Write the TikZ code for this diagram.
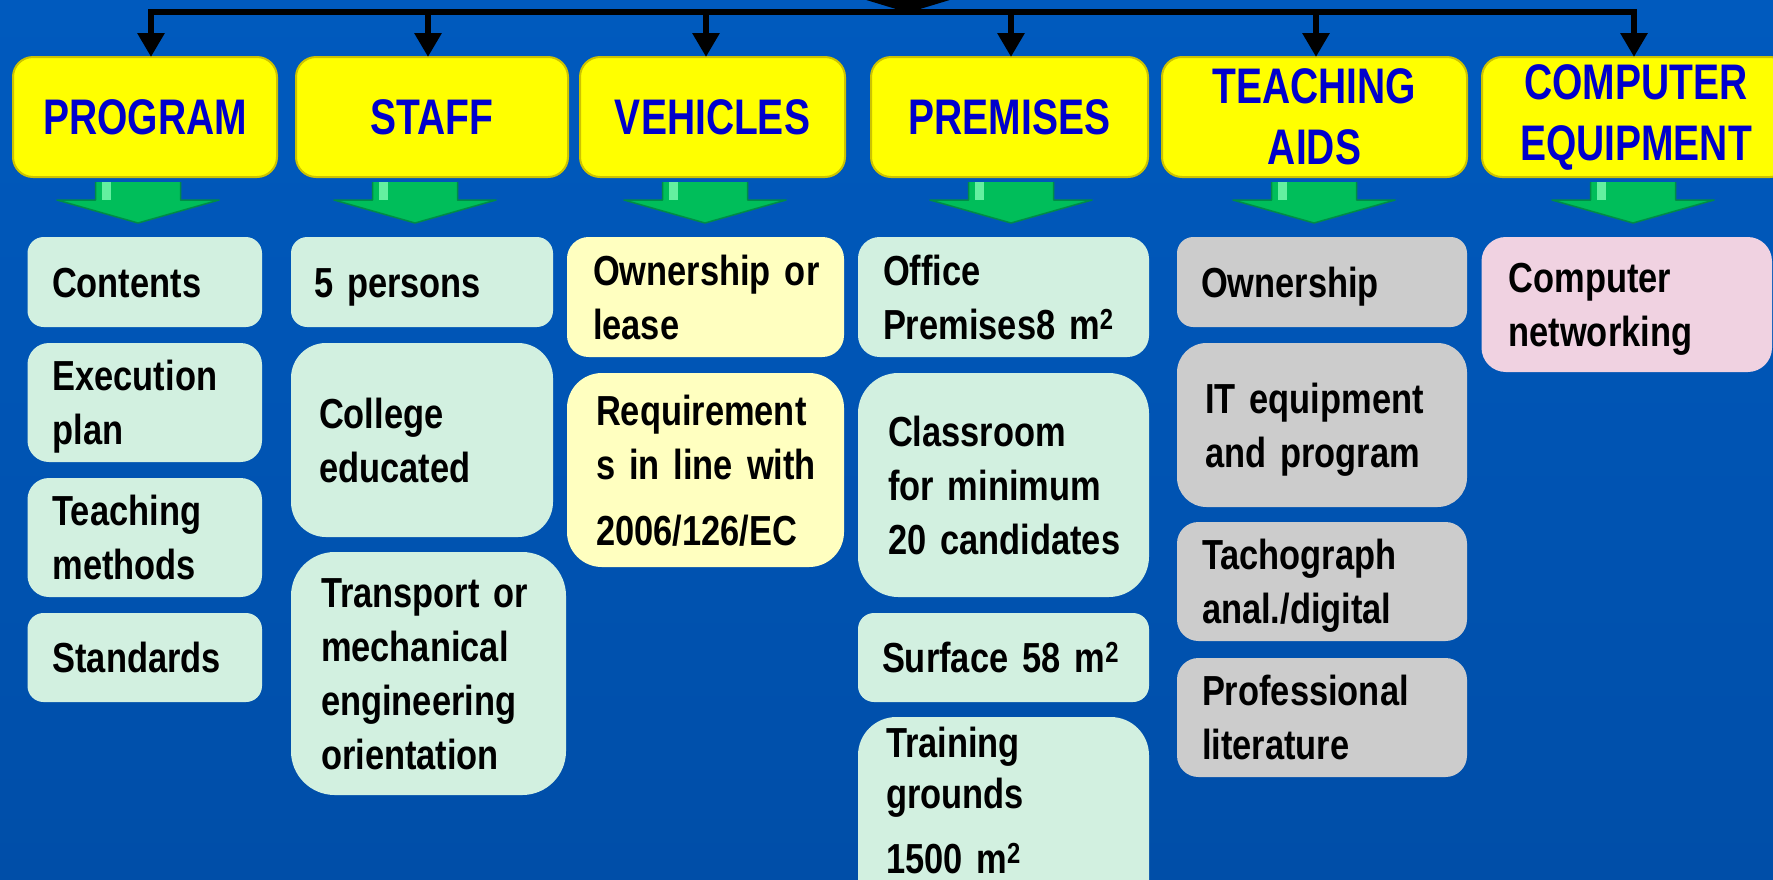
\documentclass[tikz,border=0pt]{standalone}
\usepackage{fontspec}
\newfontfamily\bodyfont{Liberation Sans}[FakeStretch=0.82]
\newfontfamily\headfont{Liberation Sans}[FakeStretch=0.78]
\usetikzlibrary{arrows.meta}
\definecolor{bgtop}{RGB}{0,90,190}
\definecolor{bgbot}{RGB}{0,78,168}
\definecolor{hdyellow}{RGB}{255,255,0}
\definecolor{hdedge}{RGB}{205,195,0}
\definecolor{hdtext}{RGB}{0,0,204}
\definecolor{mint}{RGB}{210,240,224}
\definecolor{cream}{RGB}{255,255,192}
\definecolor{grayb}{RGB}{204,204,204}
\definecolor{pinkb}{RGB}{240,210,225}
\definecolor{gmain}{RGB}{0,190,90}
\definecolor{gdark}{RGB}{0,140,70}
\definecolor{glight}{RGB}{100,240,160}
\newcommand\sq{\raisebox{10pt}{\fontsize{29pt}{29pt}\selectfont 2}}
\newcommand\st{\rule[-10pt]{0pt}{50pt}}
\newcommand\mybox[8]{%
  \pgfmathsetmacro\bxw{#5-#3}%
  \pgfmathsetmacro\bxh{#6-#4}%
  \pgfmathsetmacro\bxr{0.18*min(\bxw,\bxh)}%
  \pgfmathsetmacro\bxt{\bxw-2*#7}%
  \pgfmathsetmacro\bxcx{(#3+#5)/2}%
  \pgfmathsetmacro\bxcy{(#4+#6)/2}%
  \node[item,#2,minimum width=\bxw pt,minimum height=\bxh pt,text width=\bxt pt,rounded corners=\bxr pt] (#1) at (\bxcx,\bxcy) {\st#8\st};}
\newcommand\myhead[6]{%
  \pgfmathsetmacro\bxw{#4-#2}%
  \pgfmathsetmacro\bxcx{(#2+#4)/2}%
  \pgfmathsetmacro\bxcy{(#3+#5)/2}%
  \node[hdr,minimum width=\bxw pt] (#1) at (\bxcx,\bxcy) {#6};}
\tikzset{
  item/.style={inner sep=0pt, outer sep=0pt, align=left, text=black,
    font={\bodyfont\bfseries\fontsize{42pt}{54pt}\selectfont\spaceskip=0.24em plus 0.05em minus 0.03em\relax}},
  mintbox/.style={fill=mint},
  creambox/.style={fill=cream},
  graybox/.style={fill=grayb},
  pinkbox/.style={fill=pinkb},
  hdr/.style={fill=hdyellow, draw=hdedge, line width=2pt, rounded corners=20pt,
    minimum height=120pt, inner sep=0pt, outer sep=0pt, align=center, text=hdtext,
    font={\headfont\bfseries\fontsize{50pt}{61pt}\selectfont}},
  conn/.style={line width=6pt, black, line join=miter, -{Triangle[length=24pt,width=26pt]}},
  garrow/.pic={
    \fill[gmain] (-42.5,0) rectangle (42.5,19);
    \fill[gmain] (-81,18) -- (81,18) -- (0,41) -- cycle;
    \fill[glight] (-36,0) rectangle (-27,18);
    \draw[gdark, line width=1.5pt, line join=round] (-42.5,0) -- (-42.5,18) -- (-81,18) -- (0,41) -- (81,18) -- (42.5,18) -- (42.5,0);
  }
}
\begin{document}
\begin{tikzpicture}[x=1pt,y=-1pt]
\useasboundingbox (0,0) rectangle (1773,879);
\clip (0,0) rectangle (1773,879);
\fill[top color=bgtop, bottom color=bgbot] (0,0) rectangle (1773,879);
% headers
\myhead{program}{13}{57}{277}{177}{PROGRAM}
\myhead{staff}{296}{57}{568}{177}{STAFF}
\myhead{vehicles}{580}{57}{845}{177}{VEHICLES}
\myhead{premises}{871}{57}{1148}{177}{PREMISES}
\myhead{teaching}{1162}{57}{1467}{177}{TEACHING\\AIDS}
\myhead{computer}{1482}{57}{1790}{177}{COMPUTER\\EQUIPMENT}
% hub and connectors
\coordinate (hub) at (908,11.5);
\fill[black] (863,-1) -- (953,-1) -- (920,9) -- (896,9) -- cycle;
\foreach \n/\dx in {program/6,staff/-4,vehicles/-6.5,premises/1.5,teaching/1.5,computer/-2}
  \draw[conn] (hub) -| ([xshift=\dx pt]\n.north);
% green arrows
\foreach \gx in {138,415,705,1011,1314,1633}
  \pic at (\gx,182) {garrow};
% column 1
\mybox{contents}{mintbox}{27.5}{237}{262}{327}{24.5}{Contents}
\mybox{execplan}{mintbox}{27.5}{343}{262}{462}{25}{Execution\\plan}
\mybox{teachmeth}{mintbox}{27.5}{478}{262}{597}{25}{Teaching\\methods}
\mybox{standards}{mintbox}{27.5}{613}{262}{702}{25}{Standards}
% column 2
\mybox{persons}{mintbox}{291}{237}{553}{327}{23}{5~persons}
\mybox{college}{mintbox}{291}{343}{553}{537}{28}{College\\educated}
\mybox{transport}{mintbox}{291}{552}{566}{795}{30}{Transport~or\\mechanical\\engineering\\orientation}
% column 3
\mybox{ownlease}{creambox}{567}{237}{844}{357}{26}{Ownership~or\\lease}
\mybox{requirements}{creambox}{567}{373}{844}{567}{29}{Requirement\\s~in~line~with\\[12pt]2006/126/EC}
% column 4
\mybox{office}{mintbox}{858}{237}{1149}{357}{25}{Office\\Premises8~m\sq}
\mybox{classroom}{mintbox}{858}{373}{1149}{597}{30}{Classroom\\for~minimum\\20~candidates}
\mybox{surface}{mintbox}{858}{613}{1149}{702}{24}{Surface~58~m\sq}
\mybox{training}{mintbox}{858}{717}{1149}{930}{28}{Training\\[-3pt]grounds\\[11pt]1500~m\sq\rule[-57pt]{0pt}{1pt}}
% column 5
\mybox{ownership}{graybox}{1177}{237}{1467}{327}{24}{Ownership}
\mybox{itequip}{graybox}{1177}{343}{1467}{507}{28}{IT~equipment\\and~program}
\mybox{tacho}{graybox}{1177}{522}{1467}{641}{25}{Tachograph\\anal./digital}
\mybox{literature}{graybox}{1177}{658}{1467}{777}{25}{Professional\\literature}
% column 6
\mybox{networking}{pinkbox}{1481.5}{237}{1772}{372}{27}{Computer\\networking}
\end{tikzpicture}
\end{document}
